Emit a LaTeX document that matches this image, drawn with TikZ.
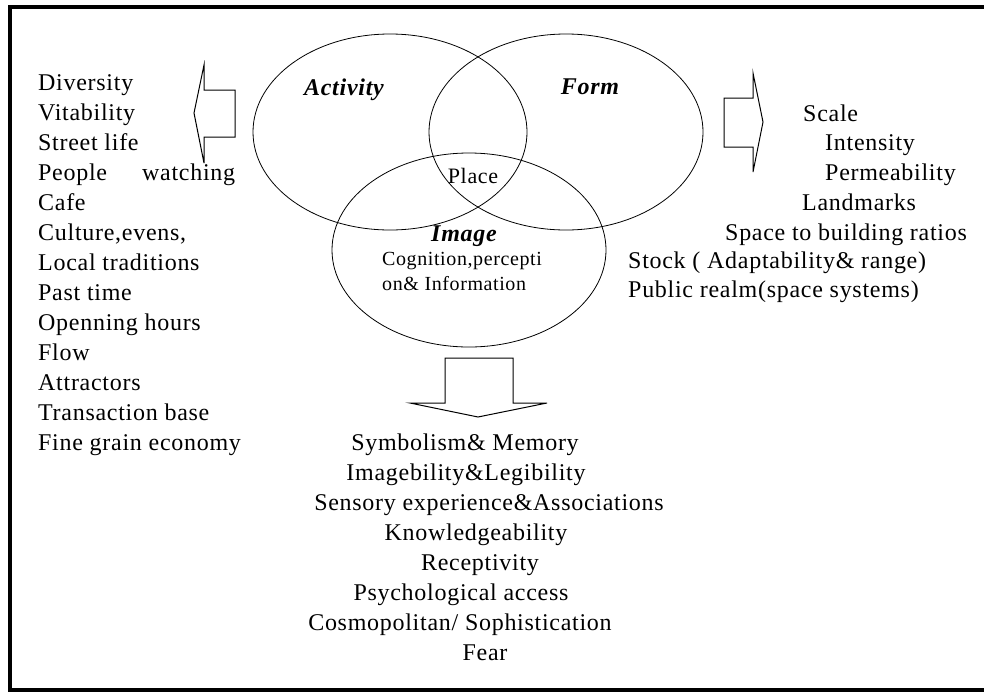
\documentclass[tikz,border=0pt]{standalone}
\usepackage{fontspec}
\setmainfont{Liberation Serif}[LetterSpace=3]
\usepackage{tikz}
\usetikzlibrary{positioning, calc}

\begin{document}
\begin{tikzpicture}[x=1pt, y=-1pt,
        listitem/.style={inner sep=0pt, font=\fontsize{24}{30}\selectfont},
        setlabel/.style={inner sep=0pt, anchor=base, font=\fontsize{24}{28}\selectfont\bfseries\itshape},
        setline/.style={line width=0.8pt},
        blockarrow/.style={line width=1pt, line join=miter}]

    \useasboundingbox (0,0) rectangle (984,691);
    \clip (0,0) rectangle (984,691);
    \draw[line width=4pt] (10,7) rectangle (1000,690);

    % the three sets
    \draw[setline] (390,132) ellipse [x radius=137, y radius=98];
    \draw[setline] (566,132) ellipse [x radius=137, y radius=98];
    \draw[setline] (469,250) ellipse [x radius=137, y radius=97];

    \node[setlabel] (activity) at (344,95) {Activity};
    \node[setlabel] (form) at (590,94) {Form};
    \node[setlabel] (image) at (464,241) {Image};
    \node[listitem, anchor=base, font=\fontsize{22}{26}\selectfont] (place) at (473,183) {Place};
    \node[listitem, anchor=base west, align=left, font=\fontsize{20}{25}\selectfont]
        (cognition) at (382,290) {Cognition,percepti\\on\& Information};

    % block arrows
    \draw[blockarrow] (235,90) -- (204,90) -- (204,65) -- (194,113) -- (204,163)
        -- (204,137) -- (235,137) -- cycle;
    \draw[blockarrow] (724,98) -- (753,98) -- (753,73) -- (763,122) -- (753,172)
        -- (753,147) -- (724,147) -- cycle;
    \draw[blockarrow] (445,358) -- (513,358) -- (513,403) -- (547,403) -- (478,417)
        -- (410,403) -- (445,403) -- cycle;

    % activity side
    \foreach \txt [count=\i from 0] in {Diversity, Vitability, Street life,
            People\hspace{35pt}watching, Cafe, {Culture,evens,}, Local traditions,
            Past time, Openning hours, Flow, Attractors, Transaction base,
            Fine grain economy}
        \node[listitem, anchor=base west] (act\i) at (38,90+30*\i) {\txt};

    % form side
    \node[listitem, anchor=base west] (scale) at (803,121) {Scale};
    \node[listitem, anchor=base west] (intensity) at (825,150) {Intensity};
    \node[listitem, anchor=base west] (permeability) at (825,180) {Permeability};
    \node[listitem, anchor=base west] (landmarks) at (802,210) {Landmarks};
    \node[listitem, anchor=base west] (ratios) at (725,240) {Space to building ratios};
    \node[listitem, anchor=base west] (stock) at (628,268) {Stock ( Adaptability\& range)};
    \node[listitem, anchor=base west] (realm) at (628,297) {Public realm(space systems)};

    % image side
    \foreach \cx/\txt [count=\i from 0] in {465/Symbolism\& Memory,
            466/Imagebility\&Legibility, 489/Sensory experience\&Associations,
            476/Knowledgeability, 480/Receptivity, 461/Psychological access,
            460/{Cosmopolitan/ Sophistication}, 485/Fear}
        \node[listitem, anchor=base] (img\i) at (\cx,450+30*\i) {\txt};

\end{tikzpicture}
\end{document}
